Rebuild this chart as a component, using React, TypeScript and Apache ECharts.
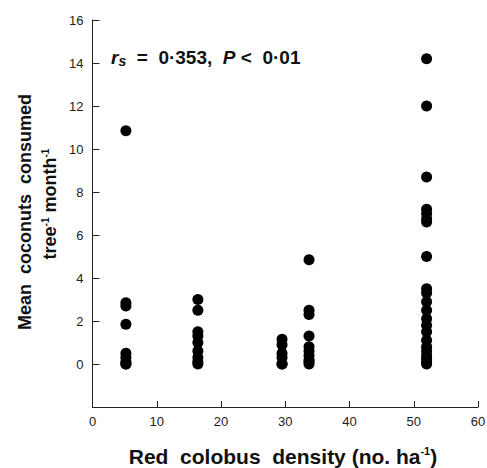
import React, { useEffect, useRef } from "react";
import * as echarts from "echarts";

const xTicks = [0, 10, 20, 30, 40, 50, 60];
const yTicks = [0, 2, 4, 6, 8, 10, 12, 14, 16];

const siteDensity = [5.2, 16.4, 29.5, 33.7, 52.0];
const site1 = [10.85, 2.85, 2.7, 1.85, 0.5, 0.3, 0.1, 0.0, 0.0];
const site2 = [3.0, 2.5, 1.5, 1.3, 1.0, 0.6, 0.3, 0.1, 0.0];
const site3 = [1.15, 0.9, 0.5, 0.3, 0.0, 0.0];
const site4 = [4.85, 2.5, 2.3, 1.3, 0.8, 0.6, 0.4, 0.2, 0.1, 0.0];
const site5 = [14.2, 12.0, 8.7, 7.2, 7.0, 6.75, 6.6, 5.0, 3.5, 3.3, 2.9, 2.5, 2.1, 1.8, 1.5, 1.1, 0.8, 0.6, 0.4, 0.25, 0.1, 0.0];

const sites = [site1, site2, site3, site4, site5];

export default function App() {
  const ref = useRef<HTMLDivElement>(null);
  useEffect(() => {
    if (!ref.current) return;
    const chart = echarts.init(ref.current, null, { renderer: "svg" });
    const data: number[][] = [];
    sites.forEach((vals, i) => vals.forEach((v) => data.push([siteDensity[i], v])));
    const font = "Arial, 'Liberation Sans', Helvetica, sans-serif";
    chart.setOption({
      animation: false,
      backgroundColor: "#ffffff",
      grid: { left: 92.5, right: 9, top: 20, bottom: 61, containLabel: false, outerBoundsMode: "none" },
      xAxis: {
        type: "value",
        min: xTicks[0],
        max: xTicks[xTicks.length - 1],
        interval: 10,
        axisLine: { onZero: false, lineStyle: { color: "#222", width: 1 } },
        axisTick: { inside: true, length: 6, lineStyle: { color: "#222" } },
        axisLabel: { color: "#222", fontSize: 13, fontFamily: font, margin: 8 },
        splitLine: { show: false },
      },
      yAxis: {
        type: "value",
        min: -2,
        max: yTicks[yTicks.length - 1],
        interval: 2,
        axisLine: { onZero: false, lineStyle: { color: "#222", width: 1 } },
        axisTick: {
          inside: true,
          length: 7,
          lineStyle: { color: "#222" },
        },
        axisLabel: {
          color: "#222",
          fontSize: 13,
          fontFamily: font,
          margin: 9,
          formatter: (v: number) => (yTicks.indexOf(v) >= 0 ? String(v) : ""),
        },
        splitLine: { show: false },
      },
      series: [
        {
          type: "scatter",
          data,
          symbol: "circle",
          symbolSize: 11,
          itemStyle: { color: "#000", opacity: 1 },
        },
      ],
      graphic: [
        {
          type: "text",
          x: 25,
          y: 212,
          rotation: Math.PI / 2,
          style: {
            text: "Mean  coconuts  consumed",
            font: `bold 18px ${font}`,
            fill: "#111",
            align: "center",
            verticalAlign: "middle",
          },
        },
        {
          type: "text",
          x: 50,
          y: 204,
          rotation: Math.PI / 2,
          style: {
            text: "{b|tree}{s|-1}{b| month}{s|-1}",
            align: "center",
            verticalAlign: "middle",
            rich: {
              b: { font: `bold 18px ${font}`, fill: "#111", lineHeight: 20 },
              s: { font: `bold 10px ${font}`, fill: "#111", lineHeight: 20, verticalAlign: "top" },
            },
          },
        },
        {
          type: "text",
          x: 283,
          y: 456,
          style: {
            text: "{b|Red  colobus  density (no. ha}{s|-1}{b|)}",
            align: "center",
            verticalAlign: "middle",
            rich: {
              b: { font: `bold 21px ${font}`, fill: "#111", lineHeight: 22 },
              s: { font: `bold 11px ${font}`, fill: "#111", lineHeight: 22, verticalAlign: "top" },
            },
          },
        },
        {
          type: "text",
          x: 111,
          y: 57,
          style: {
            text: "{i|r}{si|s}{b|  =  0·353,  }{i|P}{b| <  0·01}",
            align: "left",
            verticalAlign: "middle",
            rich: {
              i: { font: `italic bold 19px ${font}`, fill: "#111", lineHeight: 22 },
              si: { font: `italic bold 14px ${font}`, fill: "#111", lineHeight: 22, verticalAlign: "bottom" },
              b: { font: `bold 19px ${font}`, fill: "#111", lineHeight: 22 },
            },
          },
        },
      ],
    });
    return () => chart.dispose();
  }, []);
  return (
    <div
      ref={ref}
      style={{ position: "absolute", left: 0, top: 0, width: 487, height: 468 }}
    />
  );
}
